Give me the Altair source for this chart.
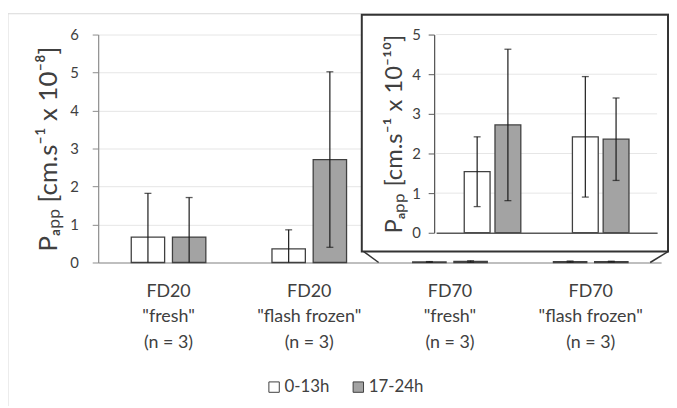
import altair as alt
import pandas as pd

# ---------------- data ----------------
categories = ['FD20|"fresh"|(n = 3)', 'FD20|"flash frozen"|(n = 3)',
              'FD70|"fresh"|(n = 3)', 'FD70|"flash frozen"|(n = 3)']
series = ["0-13h", "17-24h"]

# main panel, units of 10^-8 cm/s
main_mean_0_13 = [0.67, 0.36, 0.0154, 0.0242]
main_mean_17_24 = [0.67, 2.71, 0.0272, 0.0236]
main_sd_0_13 = [1.15, 0.50, 0.0088, 0.0152]
main_sd_17_24 = [1.04, 2.31, 0.0191, 0.0104]
main_ticks = [0, 1, 2, 3, 4, 5, 6]

# inset panel, units of 10^-10 cm/s
inset_categories = ['FD70 "fresh"', 'FD70 "flash frozen"']
inset_mean_0_13 = [1.54, 2.42]
inset_mean_17_24 = [2.72, 2.36]
inset_sd_0_13 = [0.88, 1.52]
inset_sd_17_24 = [1.91, 1.04]
inset_ticks = [0, 1, 2, 3, 4, 5]


def build(cats, m1, m2, s1, s2):
    rows = []
    for c, a, b, sa, sb in zip(cats, m1, m2, s1, s2):
        for ser, m, s in ((series[0], a, sa), (series[1], b, sb)):
            rows.append({"cat": c, "series": ser, "mean": m,
                         "lo": max(m - s, 0.0), "hi": m + s,
                         "has_lo": (m - s) > 0})
    return pd.DataFrame(rows)


main_df = build(categories, main_mean_0_13, main_mean_17_24, main_sd_0_13, main_sd_17_24)
inset_df = build(inset_categories, inset_mean_0_13, inset_mean_17_24, inset_sd_0_13, inset_sd_17_24)
inset_grid_df = pd.DataFrame({"v": inset_ticks[1:]})
deco_df = pd.DataFrame({"k": [0]})

FONT = "Lato"
TXT = "#404040"
BAR_STROKE = "#404040"
ERR = "#1a1a1a"

color = alt.Color("series:N", sort=series,
                  scale=alt.Scale(domain=series, range=["#ffffff", "#a3a3a3"]),
                  legend=alt.Legend(title=None, orient="none", direction="horizontal",
                                    legendX=169, legendY=347, symbolType="square",
                                    symbolSize=110, symbolStrokeColor=BAR_STROKE,
                                    symbolStrokeWidth=1, labelFontSize=17,
                                    labelColor=TXT, columnPadding=20, labelOffset=2))

# ---------------- main panel ----------------
main_x_axis = alt.Axis(orient="bottom", title=None, labelExpr="split(datum.label, '|')",
                       labelLineHeight=26, labelFontSize=18, labelColor=TXT,
                       labelPadding=20, ticks=False, domainColor="#8c8c8c",
                       domainWidth=1.2, labelAngle=0, grid=False)
main_x_scale = alt.Scale(paddingInner=0.47, paddingOuter=0.235)
main_y_axis = alt.Axis(orient="left", values=main_ticks, title="Pₐₚₚ [cm.s⁻¹ x 10⁻⁸]",
                       titleFontSize=26, titleColor=TXT, titleFontWeight="normal",
                       titlePadding=8, labelFontSize=15, labelPadding=14, tickSize=6,
                       tickColor="#8c8c8c", domainColor="#8c8c8c", domainWidth=1.2,
                       gridColor="#e6e6e6", labelColor=TXT)
main_y_scale = alt.Scale(domain=[0, 6])


def mx():
    return alt.X("cat:N", sort=categories, scale=main_x_scale, axis=main_x_axis)


def my(f):
    return alt.Y(f"{f}:Q", scale=main_y_scale, axis=main_y_axis)


mxo = alt.XOffset("series:N", sort=series, scale=alt.Scale(paddingInner=0.19))

main_base = alt.Chart(main_df)
main_bars = main_base.mark_bar(stroke=BAR_STROKE, strokeWidth=1.3).encode(
    x=mx(), xOffset=mxo, y=my("mean"), color=color)
main_err = main_base.mark_rule(color=ERR, strokeWidth=1.2).encode(
    x=mx(), xOffset=mxo, y=my("lo"), y2="hi:Q")
main_cap_hi = main_base.mark_tick(color=ERR, orient="horizontal", size=7, thickness=1.3).encode(
    x=mx(), xOffset=mxo, y=my("hi"))
main_cap_lo = main_base.transform_filter("datum.has_lo").mark_tick(
    color=ERR, orient="horizontal", size=7, thickness=1.3).encode(
    x=mx(), xOffset=mxo, y=my("lo"))
main = alt.layer(main_bars, main_err, main_cap_hi, main_cap_lo)

# ---------------- decorations (frames of the inset) ----------------
deco = alt.Chart(deco_df)
outer_frame = deco.mark_rect(fill=None, stroke="#d9d9d9", strokeWidth=1).encode(
    x=alt.value(-91), x2=alt.value(620), y=alt.value(-21), y2=alt.value(420))
inset_box = deco.mark_rect(fill="white", stroke="#333333", strokeWidth=2).encode(
    x=alt.value(266), x2=alt.value(575), y=alt.value(-20), y2=alt.value(219))
diag_left = deco.mark_rule(color="#333333", strokeWidth=1.5).encode(
    x=alt.value(268), y=alt.value(219), x2=alt.value(283), y2=alt.value(230))
diag_right = deco.mark_rule(color="#333333", strokeWidth=1.5).encode(
    x=alt.value(575), y=alt.value(219), x2=alt.value(557), y2=alt.value(230))
decorations = alt.layer(outer_frame, inset_box, diag_left, diag_right)

# ---------------- inset panel ----------------
inset_x_axis = alt.Axis(orient="bottom", offset=-30, labels=False, ticks=False, title=None,
                        domainColor="#595959", domainWidth=1.3, zindex=1, grid=False)
inset_x_scale = alt.Scale(range=[341, 564], paddingInner=0.477, paddingOuter=0.26)
inset_y_axis = alt.Axis(orient="left", offset=-339, values=inset_ticks,
                        title="Pₐₚₚ [cm.s⁻¹ x 10⁻¹⁰]", titleFontSize=24, titleColor=TXT,
                        titleFontWeight="normal", titlePadding=5, labelFontSize=15,
                        labelPadding=8, tickSize=6, tickColor="#595959",
                        domainColor="#595959", domainWidth=1.3, labelColor=TXT,
                        grid=False, zindex=1)
inset_y_scale = alt.Scale(domain=[0, 5], range=[200, 0])


def ix():
    return alt.X("cat:N", sort=inset_categories, scale=inset_x_scale, axis=inset_x_axis)


def iy(f):
    return alt.Y(f"{f}:Q", scale=inset_y_scale, axis=inset_y_axis)


ixo = alt.XOffset("series:N", sort=series, scale=alt.Scale(paddingInner=0.16))

inset_grid = alt.Chart(inset_grid_df).mark_rule(color="#e6e6e6", strokeWidth=1).encode(
    y=iy("v"), x=alt.value(341), x2=alt.value(564))
inset_base = alt.Chart(inset_df)
inset_bars = inset_base.mark_bar(stroke=BAR_STROKE, strokeWidth=1.3).encode(
    x=ix(), xOffset=ixo, y=iy("mean"), color=color)
inset_err = inset_base.mark_rule(color=ERR, strokeWidth=1.2).encode(
    x=ix(), xOffset=ixo, y=iy("lo"), y2="hi:Q")
inset_cap_hi = inset_base.mark_tick(color=ERR, orient="horizontal", size=7, thickness=1.3).encode(
    x=ix(), xOffset=ixo, y=iy("hi"))
inset_cap_lo = inset_base.transform_filter("datum.has_lo").mark_tick(
    color=ERR, orient="horizontal", size=7, thickness=1.3).encode(
    x=ix(), xOffset=ixo, y=iy("lo"))
inset = alt.layer(inset_grid, inset_bars, inset_err, inset_cap_hi, inset_cap_lo)

chart = alt.layer(main, decorations, inset).resolve_scale(
    x="independent", y="independent", xOffset="independent"
).properties(
    width=568, height=230,
    padding={"left": 91, "top": 25, "right": 8, "bottom": 143},
    autosize=alt.AutoSizeParams(type="none"),
    background="white",
).configure(font=FONT).configure_view(stroke=None)

chart.save("out.html", embed_options={"renderer": "svg", "actions": False})
